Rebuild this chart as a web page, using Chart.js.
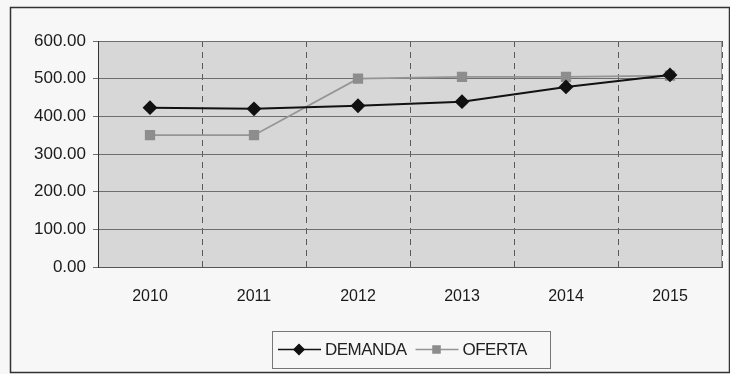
<!DOCTYPE html>
<html>
<head>
<meta charset="utf-8">
<script src="https://cdn.jsdelivr.net/npm/chart.js@4.4.1/dist/chart.umd.min.js"></script>
<style>
  html, body { margin: 0; padding: 0; background: #f7f7f7; }
  #wrap { width: 730px; height: 374px; position: relative; }
</style>
</head>
<body>
<div id="wrap"><canvas id="chart" width="730" height="374"></canvas></div>
<script>
// Data
const years = ['2010', '2011', '2012', '2013', '2014', '2015'];
const demanda = [423, 420, 428, 439, 478, 510];
const oferta = [350, 350, 500, 505, 505, 508];
const yTicks = [0, 100, 200, 300, 400, 500, 600];

const seriesNames = ['DEMANDA', 'OFERTA'];

// plot background + outer frame
const framePlugin = {
    id: 'frame',
    beforeDraw(chart) {
        const ctx = chart.ctx;
        const a = chart.chartArea;
        ctx.save();
        ctx.fillStyle = '#f7f7f7';
        ctx.fillRect(0, 0, chart.width, chart.height);
        ctx.strokeStyle = '#333';
        ctx.lineWidth = 1.5;
        ctx.strokeRect(10.5, 7.5, chart.width - 11, chart.height - 9);
        ctx.fillStyle = '#d7d7d7';
        ctx.fillRect(a.left, a.top, a.right - a.left, a.bottom - a.top);
        ctx.strokeStyle = '#9a9a9a';
        ctx.lineWidth = 1;
        ctx.beginPath();
        ctx.moveTo(a.left, a.top + 0.5);
        ctx.lineTo(a.right - 0.5, a.top + 0.5);
        ctx.lineTo(a.right - 0.5, a.bottom);
        ctx.stroke();
        ctx.restore();
    }
};

// legend in a box below the plot, like the spreadsheet one
const legendBox = {
    id: 'legendBox',
    afterDraw(chart) {
        const ctx = chart.ctx;
        const box = { x: 272, y: 331, w: 278, h: 37 };
        const cy = box.y + box.h / 2;
        ctx.save();
        ctx.strokeStyle = '#777';
        ctx.lineWidth = 1;
        ctx.strokeRect(box.x + 0.5, box.y + 0.5, box.w, box.h);
        ctx.font = '17px "Liberation Sans", Arial, sans-serif';
        ctx.textBaseline = 'middle';
        ctx.textAlign = 'left';
        let x = box.x + 6;
        chart.data.datasets.forEach((ds) => {
            ctx.strokeStyle = ds.borderColor;
            ctx.lineWidth = 1.5;
            ctx.beginPath();
            ctx.moveTo(x, cy);
            ctx.lineTo(x + 43, cy);
            ctx.stroke();
            ctx.fillStyle = ds.pointBackgroundColor;
            ctx.strokeStyle = ds.pointBorderColor;
            Chart.helpers.drawPoint(ctx, {
                pointStyle: ds.pointStyle,
                radius: ds.pointRadius - 1,
                borderWidth: 1
            }, x + 21, cy);
            ctx.fillStyle = '#222';
            ctx.letterSpacing = '-0.5px';
            ctx.fillText(ds.label, x + 47, cy + 1);
            x += 47 + ctx.measureText(ds.label).width + 9;
        });
        ctx.restore();
    }
};

new Chart(document.getElementById('chart'), {
    type: 'line',
    data: {
        labels: years,
        datasets: [
            {
                label: seriesNames[0],
                data: demanda,
                borderColor: '#111',
                borderWidth: 2,
                pointStyle: 'rectRot',
                pointRadius: 6,
                pointBackgroundColor: '#111',
                pointBorderColor: '#111',
                tension: 0
            },
            {
                label: seriesNames[1],
                data: oferta,
                borderColor: '#959595',
                borderWidth: 1.8,
                pointStyle: 'rect',
                pointRadius: 6,
                pointBackgroundColor: '#8d8d8d',
                pointBorderColor: '#8d8d8d',
                tension: 0
            }
        ]
    },
    options: {
        responsive: false,
        animation: false,
        layout: { padding: { top: 41, right: 7, left: 0, bottom: 0 } },
        plugins: {
            legend: { display: false },
            tooltip: { enabled: false }
        },
        scales: {
            x: {
                offset: true,
                grid: {
                    offset: true,
                    color: '#5a5a5a',
                    lineWidth: 1,
                    drawTicks: false
                },
                border: { color: '#555', width: 1, dash: [6, 5] },
                ticks: {
                    color: '#1a1a1a',
                    padding: 20,
                    font: { family: '"Liberation Sans", Arial, sans-serif', size: 16 }
                },
                afterFit(scale) { scale.height = 107; }
            },
            y: {
                min: 0,
                max: 600,
                afterBuildTicks(scale) { scale.ticks = yTicks.map(v => ({ value: v })); },
                grid: { color: '#6e6e6e', lineWidth: 1, tickLength: 5 },
                border: { color: '#333', width: 1 },
                ticks: {
                    color: '#1a1a1a',
                    padding: 7,
                    font: { family: '"Liberation Sans", Arial, sans-serif', size: 17 },
                    callback: v => v.toFixed(2)
                },
                afterFit(scale) { scale.width = 98; }
            }
        }
    },
    plugins: [framePlugin, legendBox]
});
</script>
</body>
</html>
